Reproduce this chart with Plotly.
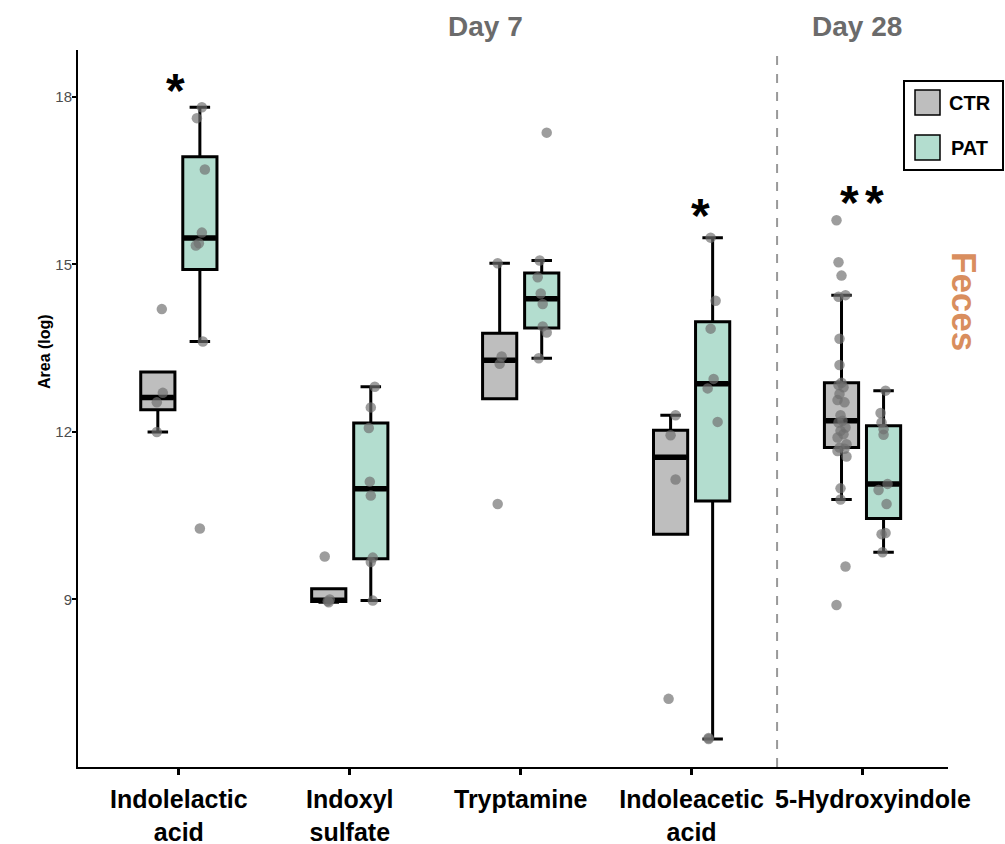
import numpy as np
import plotly.graph_objects as go

# ---- data -------------------------------------------------------------
categories = ["Indolelactic<br>acid", "Indoxyl<br>sulfate", "Tryptamine",
              "Indoleacetic<br>acid", "5-Hydroxyindole"]
groups = ["CTR", "PAT"]
y_ticks = [9, 12, 15, 18]

# log area per sample, one list per metabolite
ctr_values = [
    [14.20, 12.70, 12.53, 12.00],
    [9.77, 9.00, 8.97, 8.95],
    [15.02, 13.35, 13.22, 10.71],
    [12.30, 11.94, 11.15, 7.22],
    [15.79, 15.04, 14.80, 14.45, 14.42, 13.67, 13.20, 12.88, 12.84, 12.80,
     12.68, 12.57, 12.53, 12.30, 12.20, 12.17, 12.08, 12.02, 11.96, 11.90,
     11.78, 11.72, 11.70, 11.66, 11.56, 10.99, 10.79, 9.59, 8.90],
]
pat_values = [
    [17.815, 17.62, 16.70, 15.57, 15.38, 15.34, 13.62, 10.27],
    [12.81, 12.44, 12.07, 11.11, 10.86, 9.75, 9.67, 8.98],
    [17.36, 15.07, 14.77, 14.48, 14.29, 13.89, 13.78, 13.32],
    [15.48, 14.35, 13.85, 12.95, 12.78, 12.18, 6.52, 6.50],
    [12.74, 12.34, 12.17, 12.05, 11.95, 11.07, 10.96, 10.71, 10.19, 10.17, 9.845],
]

# horizontal jitter of each dot (pixels)
ctr_jitter = [
    [4, 5, -1, -1],
    [-4, 1, -1, 0],
    [-2, 2, 0, -2],
    [5, 0, 5, -2],
    [-5, -3, 0, 4, -3, -2, -2, 0, -3, 2, -2, -4, 3, -1, 1, -3, 4, -1, 2, -4,
     5, -2, 3, -4, 5, -1, -1, 4, -5],
]
pat_jitter = [
    [2, -3, 5, 2, -1, -4, 3, 0],
    [4, 0, -2, -1, 0, 2, 0, 2],
    [5, -2, -4, -1, 1, 1, 5, -3],
    [-2, 3, -2, 1, -5, 5, -4, -4],
    [2, -3, -2, 0, 0, 4, -5, 3, 2, -2, -1],
]

significance = ["*", "", "", "*", "* *"]

# ---- styling ----------------------------------------------------------
FONT = "Liberation Sans, Arial, Helvetica, sans-serif"
FILL = {"CTR": "#bebebe", "PAT": "#b3ddcf"}
DOT = "rgba(110,110,110,0.68)"
DODGE = 0.123
BOX_W = 0.2
PX_PER_CAT = 171.0

W, H = 1005, 844
ML, MR, MT, MB = 78, 57, 50, 77
PW, PH = W - ML - MR, H - MT - MB


def px_x(px):
    return (px - ML) / PW


def px_y(py):
    return (H - MB - py) / PH


def box_stats(vals):
    v = np.asarray(vals, dtype=float)
    q1, med, q3 = np.percentile(v, [25, 50, 75])
    iqr = q3 - q1
    lo = v[v >= q1 - 1.5 * iqr].min()
    hi = v[v <= q3 + 1.5 * iqr].max()
    return q1, med, q3, min(lo, q1), max(hi, q3)


fig = go.Figure()

series = {"CTR": (ctr_values, ctr_jitter, -DODGE),
          "PAT": (pat_values, pat_jitter, DODGE)}

for g in groups:
    vals, jit, off = series[g]
    xs, q1s, meds, q3s, los, his = [], [], [], [], [], []
    for i, v in enumerate(vals):
        q1, med, q3, lo, hi = box_stats(v)
        xs.append(i + off)
        q1s.append(q1); meds.append(med); q3s.append(q3)
        los.append(lo); his.append(hi)
    fig.add_trace(go.Box(
        x=xs, q1=q1s, median=meds, q3=q3s, lowerfence=los, upperfence=his,
        width=BOX_W, whiskerwidth=0.6, boxpoints=False,
        fillcolor=FILL[g], line=dict(color="black", width=3),
        name=g, showlegend=False, hoverinfo="skip",
    ))
    # heavier median bar
    mx, my = [], []
    for x, m in zip(xs, meds):
        mx += [x - BOX_W / 2 + 0.006, x + BOX_W / 2 - 0.006, None]
        my += [m, m, None]
    fig.add_trace(go.Scatter(x=mx, y=my, mode="lines",
                             line=dict(color="black", width=5.5),
                             showlegend=False, hoverinfo="skip"))

for g in groups:
    vals, jit, off = series[g]
    px, py = [], []
    for i, (v, j) in enumerate(zip(vals, jit)):
        for val, dj in zip(v, j):
            px.append(i + off + dj / PX_PER_CAT)
            py.append(val)
    fig.add_trace(go.Scatter(x=px, y=py, mode="markers",
                             marker=dict(size=10.5, color=DOT, line=dict(width=0)),
                             showlegend=False, name=g))

shapes = [
    # Day 7 / Day 28 separator
    dict(type="line", xref="x", yref="paper", x0=3.5, x1=3.5, y0=0.0, y1=1.0,
         line=dict(color="#999999", width=2, dash="dash")),
    # legend frame and keys
    dict(type="rect", xref="paper", yref="paper",
         x0=px_x(904), x1=px_x(1003), y0=px_y(170), y1=px_y(81),
         line=dict(color="black", width=2), fillcolor="white"),
    dict(type="rect", xref="paper", yref="paper",
         x0=px_x(915), x1=px_x(940), y0=px_y(115), y1=px_y(90),
         line=dict(color="black", width=1.5), fillcolor=FILL["CTR"]),
    dict(type="rect", xref="paper", yref="paper",
         x0=px_x(915), x1=px_x(940), y0=px_y(160), y1=px_y(135),
         line=dict(color="black", width=1.5), fillcolor=FILL["PAT"]),
]

annotations = [
    dict(text="<b>CTR</b>", xref="paper", yref="paper", x=px_x(947), y=px_y(103),
         xanchor="left", yanchor="middle", showarrow=False,
         font=dict(family=FONT, size=20, color="black")),
    dict(text="<b>PAT</b>", xref="paper", yref="paper", x=px_x(949), y=px_y(148),
         xanchor="left", yanchor="middle", showarrow=False,
         font=dict(family=FONT, size=20, color="black")),
    dict(text="<b>Day 7</b>", xref="paper", yref="paper", x=px_x(485), y=px_y(27),
         xanchor="center", yanchor="middle", showarrow=False,
         font=dict(family=FONT, size=28, color="#6b6b6b")),
    dict(text="<b>Day 28</b>", xref="paper", yref="paper", x=px_x(857), y=px_y(27),
         xanchor="center", yanchor="middle", showarrow=False,
         font=dict(family=FONT, size=28, color="#6b6b6b")),
    dict(text="<b>Feces</b>", xref="paper", yref="paper", x=px_x(965), y=px_y(301),
         xanchor="center", yanchor="middle", showarrow=False, textangle=90,
         font=dict(family=FONT, size=35, color="#d98e5e")),
    dict(text="<b>Area (log)</b>", xref="paper", yref="paper", x=px_x(44), y=px_y(352),
         xanchor="center", yanchor="middle", showarrow=False, textangle=-90,
         font=dict(family=FONT, size=16, color="black")),
]

# significance marks above the metabolites (one glyph per asterisk)
star_pos = [(175, 85), None, None, (700, 209), (862, 197)]
STAR_GAP = 25
for mark, pos in zip(significance, star_pos):
    if not (mark and pos):
        continue
    stars = mark.split()
    n = len(stars)
    for k, s in enumerate(stars):
        cx = pos[0] + (k - (n - 1) / 2) * STAR_GAP
        annotations.append(dict(
            text="<b>%s</b>" % s, xref="paper", yref="paper",
            x=px_x(cx), y=px_y(pos[1] + 6), xanchor="center", yanchor="middle",
            showarrow=False, font=dict(family=FONT, size=48, color="black")))

# the last label sits slightly right of its tick
tick_text = ["<b>%s</b>" % c for c in categories]
tick_text[-1] = "<b>&nbsp;&nbsp;&nbsp;%s</b>" % categories[-1]

fig.update_layout(
    width=W, height=H,
    margin=dict(l=ML, r=MR, t=MT, b=MB, pad=0, autoexpand=False),
    paper_bgcolor="white", plot_bgcolor="white",
    showlegend=False,
    shapes=shapes, annotations=annotations,
    xaxis=dict(range=[-0.59, 4.5], tickmode="array", tickvals=list(range(len(categories))),
               ticktext=tick_text, automargin=False, tickangle=0,
               showgrid=False, zeroline=False, showline=True, linecolor="black",
               linewidth=2, ticks="outside", ticklen=6, tickwidth=3, tickcolor="black",
               ticklabelstandoff=3,
               tickfont=dict(family=FONT, size=25, color="black")),
    yaxis=dict(range=[6.0, 18.84], tickmode="array", tickvals=y_ticks, automargin=False,
               showgrid=False, zeroline=False, showline=True, linecolor="black",
               linewidth=2, ticks="outside", ticklen=4, tickwidth=2, tickcolor="black",
               ticklabelstandoff=-3,
               tickfont=dict(family=FONT, size=15, color="#4d4d4d")),
)

fig.write_html("out.html")
